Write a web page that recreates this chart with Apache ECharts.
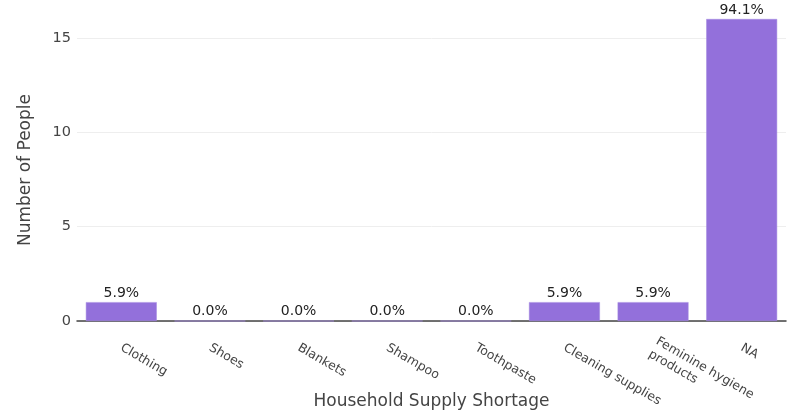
<!DOCTYPE html>
<html>
<head>
<meta charset="utf-8">
<style>
  html, body { margin: 0; padding: 0; background: #fff; }
  #chart { width: 789px; height: 415px; }
</style>
<script src="https://cdn.jsdelivr.net/npm/echarts@6/dist/echarts.min.js"></script>
</head>
<body>
<div id="chart"></div>
<script>
// Household supply shortage survey: count of respondents per item
const categories = ['Clothing', 'Shoes', 'Blankets', 'Shampoo', 'Toothpaste',
  'Cleaning supplies', 'Feminine hygiene\nproducts', 'NA'];
const counts = [1, 0, 0, 0, 0, 1, 1, 16];
const percentLabels = ['5.9%', '0.0%', '0.0%', '0.0%', '0.0%', '5.9%', '5.9%', '94.1%'];
const yTicks = [0, 5, 10, 15];

const font = 'DejaVu Sans, Verdana, sans-serif';
const chart = echarts.init(document.getElementById('chart'));

chart.setOption({
  animation: false,
  grid: { left: 77, right: 3, top: 19, bottom: 94, outerBoundsMode: 'none', containLabel: false },
  xAxis: {
    type: 'category',
    data: categories,
    name: 'Household Supply Shortage',
    nameLocation: 'middle',
    nameGap: 72,
    nameMoveOverlap: false,
    nameTextStyle: { fontFamily: font, fontSize: 17, color: '#444' },
    axisLine: { show: true, lineStyle: { color: '#444', width: 1.5 } },
    axisTick: { show: false },
    axisLabel: {
      rotate: -30,
      interval: 0,
      margin: 26,
      fontFamily: font,
      fontSize: 12.5,
      color: '#444',
      lineHeight: 15
    }
  },
  yAxis: {
    type: 'value',
    min: 0,
    max: 16,
    interval: 5,
    name: 'Number of People',
    nameLocation: 'middle',
    nameGap: 43,
    nameMoveOverlap: false,
    nameTextStyle: { fontFamily: font, fontSize: 17, color: '#444' },
    axisLine: { show: false },
    axisTick: { show: false },
    axisLabel: {
      margin: 6,
      fontFamily: font,
      fontSize: 14.5,
      color: '#444',
      showMaxLabel: false,
      formatter: v => (yTicks.includes(v) ? String(v) : '')
    },
    splitLine: { showMaxLine: false, lineStyle: { color: '#eeeeee', width: 1 } }
  },
  series: [{
    type: 'bar',
    data: counts,
    barCategoryGap: '20%',
    itemStyle: { color: '#9370db', borderColor: '#a48ae0', borderWidth: 0.5 },
    label: {
      show: true,
      position: 'top',
      distance: 2,
      fontFamily: font,
      fontSize: 14,
      color: '#222',
      formatter: p => percentLabels[p.dataIndex]
    }
  }]
});
</script>
</body>
</html>
